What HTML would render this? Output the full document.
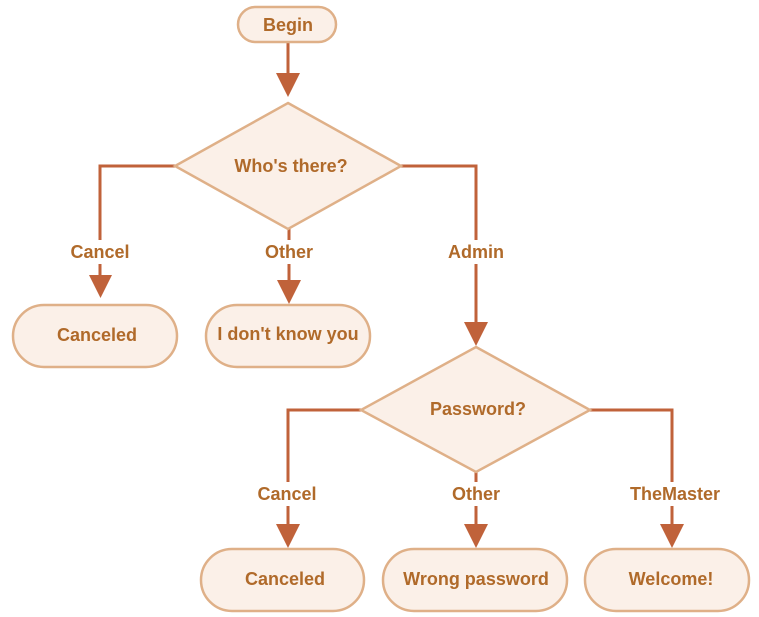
<!DOCTYPE html>
<html><head><meta charset="utf-8"><style>
html,body{margin:0;padding:0;background:#fff;}
svg{display:block}
text{font-family:"Liberation Sans","DejaVu Sans",sans-serif;font-weight:bold;font-size:18px;fill:#b06a2a;text-anchor:middle;}
</style></head><body>
<svg width="759" height="617" viewBox="0 0 759 617" xmlns="http://www.w3.org/2000/svg">
<g fill="none" stroke="#c0623a" stroke-width="3">
<path d="M288 43V75"/>
<path d="M175 166H100V276"/>
<path d="M289 229V281"/>
<path d="M401 166H476V324"/>
<path d="M361 410H288V526"/>
<path d="M476 472V526"/>
<path d="M590 410H672V526"/>
</g>
<g fill="#c0623a">
<path d="M276 73H300L288 97Z"/>
<path d="M89 275H112L100.5 298Z"/>
<path d="M277 280H301L289 304Z"/>
<path d="M464 322H488L476 346Z"/>
<path d="M276 524H300L288 548Z"/>
<path d="M464 524H488L476 548Z"/>
<path d="M660 524H684L672 548Z"/>
</g>
<g fill="#fff">
<rect x="62" y="240" width="78" height="24"/>
<rect x="256" y="240" width="66" height="24"/>
<rect x="440" y="240" width="72" height="24"/>
<rect x="250" y="482" width="76" height="24"/>
<rect x="443" y="482" width="66" height="24"/>
<rect x="620" y="482" width="108" height="24"/>
</g>
<g fill="#fbf0e8" stroke="#dfb088" stroke-width="2.5">
<rect x="238" y="7" width="98" height="35" rx="17.5"/>
<path d="M288 103L401 166L288 229L175 166Z"/>
<rect x="13" y="305" width="164" height="62" rx="31"/>
<rect x="206" y="305" width="164" height="62" rx="31"/>
<path d="M476 347L590 410L476 472L361 410Z"/>
<rect x="201" y="549" width="163" height="62" rx="31"/>
<rect x="383" y="549" width="184" height="62" rx="31"/>
<rect x="585" y="549" width="164" height="62" rx="31"/>
</g>
<text x="288" y="31">Begin</text>
<text x="291" y="172">Who's there?</text>
<text x="100" y="258">Cancel</text>
<text x="289" y="258">Other</text>
<text x="476" y="258">Admin</text>
<text x="97" y="341">Canceled</text>
<text x="288" y="340">I don't know you</text>
<text x="478" y="415">Password?</text>
<text x="287" y="500">Cancel</text>
<text x="476" y="500">Other</text>
<text x="675" y="500">TheMaster</text>
<text x="285" y="585">Canceled</text>
<text x="476" y="585">Wrong password</text>
<text x="671" y="585">Welcome!</text>
</svg>
</body></html>
